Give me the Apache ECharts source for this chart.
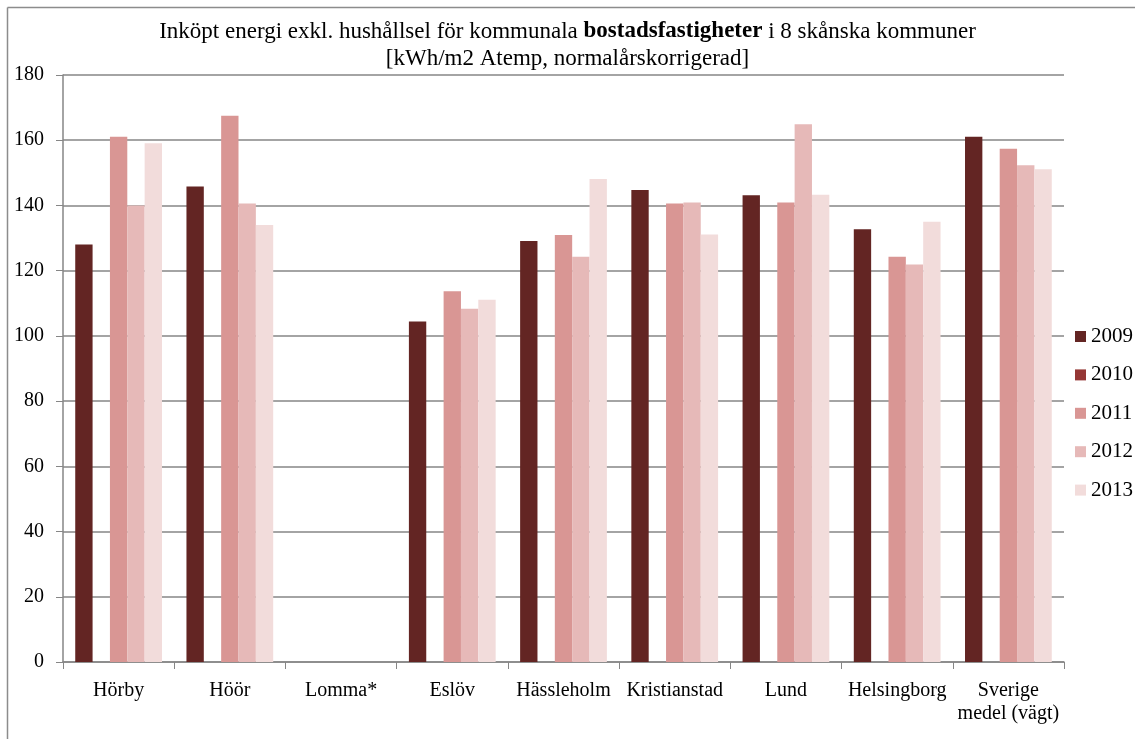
<!DOCTYPE html>
<html>
<head>
<meta charset="utf-8">
<script src="https://cdn.jsdelivr.net/npm/echarts@6/dist/echarts.min.js"></script>
<style>
html,body{margin:0;padding:0;background:#fff;}
#chart{width:1135px;height:739px;}
</style>
</head>
<body>
<div id="chart"></div>
<script>
const categories = ['Hörby','Höör','Lomma*','Eslöv','Hässleholm','Kristianstad','Lund','Helsingborg','Sverige\nmedel (vägt)'];
const years = ['2009','2010','2011','2012','2013'];
const v2009 = [128, 145.8, null, 104.4, 129.1, 144.7, 143.1, 132.7, 161.1];
const v2010 = [null, null, null, null, null, null, null, null, null];
const v2011 = [161.1, 167.5, null, 113.7, 130.9, 140.6, 140.9, 124.3, 157.4];
const v2012 = [140.0, 140.6, null, 108.3, 124.3, 140.9, 164.9, 121.9, 152.3];
const v2013 = [159.1, 134.0, null, 111.1, 148.1, 131.1, 143.3, 135.0, 151.1];
const yTicks = [0, 20, 40, 60, 80, 100, 120, 140, 160, 180];

const seriesValues = [v2009, v2010, v2011, v2012, v2013];
const colors = ['#632523', '#953735', '#d99694', '#e6b9b8', '#f2dcdb'];
const FONT = 'Liberation Serif';

const chart = echarts.init(document.getElementById('chart'), null, {renderer: 'canvas'});
chart.setOption({
  animation: false,
  backgroundColor: '#fff',
  textStyle: {fontFamily: FONT},
  title: {
    text: '{n|Inköpt energi exkl. hushållsel för kommunala }{b|bostadsfastigheter}{n| i 8 skånska kommuner}\n{n|[kWh/m2 Atemp, normalårskorrigerad]}',
    left: 'center',
    top: 13,
    textStyle: {
      fontWeight: 'normal',
      fontFamily: FONT,
      rich: {
        n: {fontFamily: FONT, fontSize: 23, color: '#000', fontWeight: 'normal', lineHeight: 27},
        b: {fontFamily: FONT, fontSize: 23, color: '#000', fontWeight: 'bold', lineHeight: 27}
      }
    }
  },
  legend: {
    orient: 'vertical',
    left: 1070,
    top: 321,
    itemWidth: 11,
    itemHeight: 11,
    itemGap: 17.4,
    icon: 'rect',
    data: years,
    textStyle: {fontFamily: FONT, fontSize: 21, lineHeight: 20, color: '#000'}
  },
  grid: {left: 63, right: 71, top: 75, bottom: 77, containLabel: false},
  xAxis: {
    type: 'category',
    data: categories,
    axisLine: {lineStyle: {color: '#868686', width: 1.5}},
    axisTick: {show: true, length: 7, lineStyle: {color: '#868686'}},
    axisLabel: {fontFamily: FONT, fontSize: 20, color: '#000', margin: 17, lineHeight: 23, interval: 0}
  },
  yAxis: {
    type: 'value',
    min: 0, max: 180, interval: 20,
    axisLine: {show: true, lineStyle: {color: '#868686', width: 1.5}},
    axisTick: {show: true, length: 7, lineStyle: {color: '#868686'}},
    splitLine: {lineStyle: {color: '#868686', width: 1.5}},
    axisLabel: {fontFamily: FONT, fontSize: 20, color: '#000', margin: 19,
      formatter: v => yTicks.includes(v) ? String(v) : ''}
  },
  series: years.map((y, i) => ({
    name: y,
    type: 'bar',
    data: seriesValues[i],
    barGap: '0%',
    barCategoryGap: '22%',
    itemStyle: {color: colors[i]}
  })),
  graphic: [
    {type: 'line', shape: {x1: 7.5, y1: 7.5, x2: 1135, y2: 7.5}, style: {stroke: '#8c8c8c', lineWidth: 1.5}},
    {type: 'line', shape: {x1: 7.5, y1: 7.5, x2: 7.5, y2: 739}, style: {stroke: '#8c8c8c', lineWidth: 1.5}}
  ]
});
</script>
</body>
</html>
